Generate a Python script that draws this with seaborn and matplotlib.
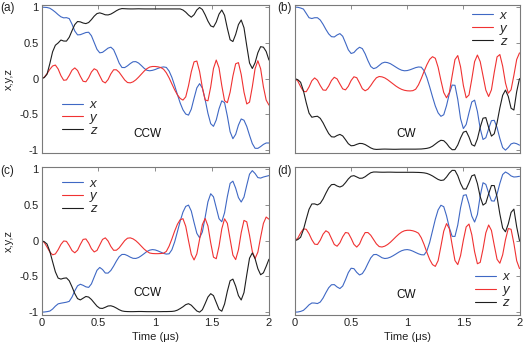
import matplotlib
matplotlib.use("Agg")
import matplotlib.pyplot as plt
import numpy as np
import pandas as pd
import seaborn as sns

# sampling grids the values were read at (us)
time_left = np.round(np.arange(83) * 0.024385, 4)
time_right = np.round(np.arange(81) * 0.025, 4)

# panel (a), ccw
a_x = [1.0, .998, .995, .985, .96, .93, .895, .865, .85, .853, .84, .762, .666, .612, .615, .63, .645, .649, .60, .505,
       .41, .361, .368, .397, .427, .44, .405, .316, .217, .156, .155, .179, .211, .236, .238, .218, .183, .145, .117, .11,
       .116, .128, .144, .157, .164, .157, .106, .018, -.097, -.223, -.341, -.436, -.495, -.51, -.427, -.274, -.129, -.07,
       -.132, -.293, -.485, -.63, -.667, -.578, -.422, -.311, -.336, -.523, -.743, -.84, -.779, -.65, -.564, -.582, -.669,
       -.793, -.908, -.974, -.975, -.95, -.92, -.90, -.90]
a_y = [0, .02, .07, .13, .177, .19, .135, .042, -.023, -.018, .044, .118, .15, .114, .033, -.037, -.044, .013, .093, .138,
       .117, .04, -.037, -.06, -.013, .067, .124, .124, .089, .035, -.019, -.054, -.059, -.045, -.017, .021, .063, .105,
       .139, .162, .17, .17, .165, .155, .132, .082, .011, -.073, -.156, -.227, -.277, -.30, -.255, -.099, .096, .235,
       .246, .099, -.126, -.298, -.31, -.116, .142, .26, .151, -.098, -.309, -.336, -.189, .036, .208, .224, .058, -.188,
       -.354, -.328, -.114, .139, .25, .139, -.114, -.30, -.37]
a_z = [0, .015, .063, .21, .375, .467, .499, .54, .526, .525, .579, .67, .756, .799, .794, .778, .77, .785, .826, .874,
       .91, .92, .908, .893, .891, .903, .925, .95, .97, .98, .978, .976, .975, .975, .976, .977, .976, .975, .975, .975,
       .975, .975, .975, .975, .975, .975, .975, .975, .975, .975, .975, .96, .93, .89, .86, .894, .961, .995, .967, .893,
       .805, .738, .722, .792, .902, .96, .886, .704, .544, .519, .619, .756, .82, .712, .458, .218, .142, .222, .362,
       .447, .44, .38, .26]

# panel (b), cw
b_x = [1.0, .998, .988, .973, .913, .852, .841, .852, .852, .82, .76, .689, .626, .587, .583, .611, .63, .593, .50, .403,
       .352, .365, .409, .439, .42, .347, .251, .17, .14, .153, .185, .217, .23, .224, .209, .185, .16, .136, .118, .11,
       .113, .124, .139, .154, .163, .16, .111, .012, -.116, -.254, -.383, -.479, -.527, -.505, -.377, -.209, -.09, -.093,
       -.29, -.56, -.698, -.641, -.477, -.326, -.301, -.459, -.699, -.851, -.826, -.701, -.588, -.583, -.684, -.837,
       -.964, -1.0, -.963, -.913, -.90, -.91, -.93]
b_y = [0, -.034, -.112, -.177, -.183, -.117, -.03, .01, -.023, -.097, -.159, -.163, -.104, -.026, .019, -.004, -.075,
       -.143, -.157, -.107, -.026, .026, .013, -.061, -.141, -.17, -.147, -.096, -.037, .012, .03, .025, .01, -.015,
       -.045, -.075, -.105, -.13, -.15, -.163, -.17, -.172, -.168, -.148, -.087, .002, .102, .195, .27, .307, .285, .159,
       -.025, -.194, -.268, -.194, .04, .266, .323, .165, -.096, -.268, -.228, -.007, .238, .33, .238, .04, -.16, -.25,
       -.156, .087, .304, .337, .175, -.06, -.204, -.155, .047, .268, .36]
b_z = [0, -.015, -.051, -.168, -.336, -.482, -.54, -.531, -.526, -.555, -.618, -.696, -.768, -.813, -.817, -.795, -.78,
       -.801, -.854, -.91, -.939, -.935, -.919, -.906, -.908, -.922, -.945, -.969, -.985, -.99, -.988, -.986, -.985,
       -.986, -.987, -.988, -.988, -.987, -.986, -.986, -.986, -.986, -.986, -.986, -.985, -.984, -.98, -.975, -.965,
       -.945, -.915, -.885, -.862, -.868, -.906, -.958, -.994, -.993, -.928, -.829, -.749, -.735, -.817, -.923, -.943,
       -.843, -.68, -.553, -.545, -.683, -.804, -.771, -.617, -.409, -.233, -.16, -.249, -.414, -.439, -.181, 0.0]

# panel (c), ccw
c_x = [-1.0, -.998, -.993, -.985, -.957, -.916, -.884, -.875, -.868, -.861, -.849, -.789, -.702, -.632, -.61, -.625,
       -.646, -.654, -.605, -.509, -.415, -.375, -.404, -.453, -.454, -.417, -.356, -.286, -.225, -.193, -.193, -.209,
       -.231, -.247, -.249, -.236, -.211, -.182, -.152, -.133, -.125, -.13, -.144, -.161, -.178, -.188, -.184, -.128,
       -.018, .125, .273, .399, .479, .497, .414, .253, .102, .04, .122, .327, .543, .656, .613, .46, .307, .264, .391,
       .616, .801, .832, .734, .602, .54, .61, .775, .93, .979, .939, .882, .875, .89, .90, .91]
c_y = [0, -.025, -.09, -.159, -.198, -.186, -.127, -.053, -.005, -.01, -.069, -.139, -.17, -.134, -.053, .017, .024,
       -.033, -.113, -.158, -.137, -.06, .017, .039, -.005, -.081, -.135, -.134, -.101, -.05, .001, .034, .039, .025,
       -.001, -.037, -.078, -.118, -.15, -.173, -.18, -.182, -.182, -.18, -.176, -.151, -.077, .023, .133, .229, .293,
       .307, .201, -.001, -.192, -.27, -.185, .02, .225, .31, .206, -.03, -.231, -.253, -.079, .165, .305, .242, .02,
       -.202, -.265, -.128, .112, .283, .263, .073, -.152, -.25, -.161, .048, .241, .33, .30]
c_z = [0, -.015, -.048, -.15, -.295, -.436, -.524, -.538, -.526, -.521, -.561, -.646, -.741, -.811, -.829, -.805, -.781,
       -.789, -.823, -.87, -.916, -.945, -.948, -.932, -.914, -.911, -.923, -.943, -.966, -.983, -.99, -.992, -.993,
       -.993, -.992, -.991, -.991, -.992, -.993, -.993, -.993, -.993, -.993, -.993, -.992, -.992, -.991, -.99, -.985,
       -.972, -.95, -.925, -.895, -.882, -.903, -.944, -.984, -1.0, -.966, -.88, -.789, -.742, -.769, -.865, -.961,
       -.987, -.886, -.708, -.561, -.538, -.636, -.769, -.83, -.726, -.478, -.245, -.172, -.252, -.392, -.477, -.45,
       -.36, -.26]

# panel (d), cw
d_x = [-1.0, -.998, -.99, -.975, -.939, -.898, -.872, -.873, -.88, -.859, -.803, -.728, -.659, -.617, -.615, -.648,
       -.67, -.635, -.546, -.447, -.386, -.392, -.444, -.48, -.461, -.40, -.318, -.241, -.196, -.193, -.214, -.239,
       -.25, -.245, -.231, -.21, -.186, -.161, -.141, -.129, -.125, -.132, -.147, -.166, -.184, -.197, -.199, -.144,
       -.024, .137, .299, .43, .495, .475, .347, .179, .06, .059, .219, .461, .633, .642, .512, .344, .26, .366, .627,
       .81, .787, .667, .557, .553, .651, .801, .925, .96, .938, .905, .89, .893, .90]
d_y = [0, .035, .108, .164, .159, .097, .013, -.049, -.054, .006, .09, .138, .114, .03, -.054, -.078, -.03, .054, .114,
       .106, .033, -.052, -.09, -.047, .044, .113, .113, .075, .015, -.045, -.083, -.089, -.077, -.054, -.022, .016,
       .055, .091, .12, .138, .145, .145, .138, .125, .104, .04, -.054, -.164, -.264, -.335, -.36, -.28, -.078, .132,
       .238, .167, -.06, -.278, -.335, -.209, .008, .192, .232, .083, -.155, -.323, -.304, -.117, .109, .219, .143,
       -.064, -.261, -.316, -.198, .013, .169, .159, -.039, -.282, -.39]
d_z = [0, .015, .048, .153, .30, .438, .513, .514, .50, .522, .582, .663, .737, .783, .787, .764, .75, .767, .811, .863,
       .901, .909, .891, .872, .874, .894, .924, .95, .96, .96, .958, .957, .957, .958, .958, .957, .956, .956, .956,
       .956, .956, .956, .956, .955, .954, .952, .948, .94, .925, .905, .88, .856, .842, .848, .89, .945, .983, .982,
       .909, .80, .722, .722, .809, .906, .922, .799, .614, .497, .525, .654, .771, .77, .612, .373, .176, .124, .234,
       .395, .441, .193, 0.0]

panels = ["a", "b", "c", "d"]
directions = ["CCW", "CW", "CCW", "CW"]
series = {
    "a": (a_x, a_y, a_z),
    "b": (b_x, b_y, b_z),
    "c": (c_x, c_y, c_z),
    "d": (d_x, d_y, d_z),
}
grids = {"a": time_left, "b": time_right, "c": time_left, "d": time_right}
components = ["x", "y", "z"]
x_ticks = [0, 0.5, 1, 1.5, 2]
x_ticklabels = ["0", "0.5", "1", "1.5", "2"]
y_ticks = [-1, -0.5, 0, 0.5, 1]
y_ticklabels = ["-1", "-0.5", "0", "0.5", "1"]

rows = []
for p in panels:
    for comp, vals in zip(components, series[p]):
        for t, v in zip(grids[p], vals):
            rows.append((p, comp, t, v))
df = pd.DataFrame(rows, columns=["panel", "component", "time", "value"])

sns.set_theme(style="white")
plt.rcParams["font.family"] = ["Liberation Sans", "DejaVu Sans"]

palette = {"x": "#3f68c4", "y": "#f03232", "z": "#1e1e1e"}
frame = "#7a7a7a"

fig = plt.figure(figsize=(5.26, 3.52), dpi=100)
W, H = 526, 352
# left edge, top edge, width in pixels
boxes = {
    "a": (41.5, 5, 227.5), "b": (295, 5, 224.5),
    "c": (41.5, 167, 227.5), "d": (295, 167, 224.5),
}
legend_anchor = {"a": (0.09, 0.365), "b": (0.788, 0.968), "c": (0.09, 0.93), "d": (0.80, 0.296)}
dir_pos = {"a": (0.466, 0.13), "b": (0.497, 0.125), "c": (0.466, 0.15), "d": (0.497, 0.135)}

for p, d in zip(panels, directions):
    left, top, width = boxes[p]
    ax = fig.add_axes([left / W, 1 - (top + 148) / H, width / W, 148 / H])
    sub = df[df.panel == p]
    sns.lineplot(data=sub, x="time", y="value", hue="component", palette=palette,
                 estimator=None, sort=False, linewidth=0.8, ax=ax, legend=False)
    ax.set_xlim(0, 2)
    ax.set_ylim(-1.04, 1.03)
    ax.set_xticks(x_ticks)
    ax.set_xticklabels(x_ticklabels)
    ax.set_yticks(y_ticks)
    ax.set_yticklabels(y_ticklabels)
    ax.tick_params(direction="in", top=True, right=True, length=3, width=0.6,
                   color=frame, labelsize=8, pad=2, labelcolor="#222222")
    for s in ax.spines.values():
        s.set_color(frame)
        s.set_linewidth(0.8)
    ax.set_xlabel("")
    ax.set_ylabel("")
    if p in ("a", "b"):
        ax.tick_params(labelbottom=False)
    else:
        ax.set_xlabel("Time (\u03bcs)", fontsize=8, labelpad=3, color="#222222")
    if p in ("b", "d"):
        ax.tick_params(labelleft=False)
    else:
        ax.set_ylabel("x,y,z", fontsize=8, labelpad=4, color="#222222")

    handles = ax.get_lines()[:3]
    ax.legend(handles, components, loc="upper left", bbox_to_anchor=legend_anchor[p],
              frameon=False, borderpad=0, borderaxespad=0, handlelength=1.6,
              handletextpad=0.5, labelspacing=0.05, prop={"style": "italic", "size": 9.5})
    ax.text(*dir_pos[p], d, transform=ax.transAxes, ha="center", va="center",
            fontsize=8.5, color="#111111")

for lab, (x, y) in zip(["(a)", "(b)", "(c)", "(d)"], [(0, 8), (277, 8), (0, 171), (277, 171)]):
    fig.text(x / W, 1 - y / H, lab, ha="left", va="center", fontsize=8.5, color="#222222")

fig.savefig("out.png", dpi=100)
